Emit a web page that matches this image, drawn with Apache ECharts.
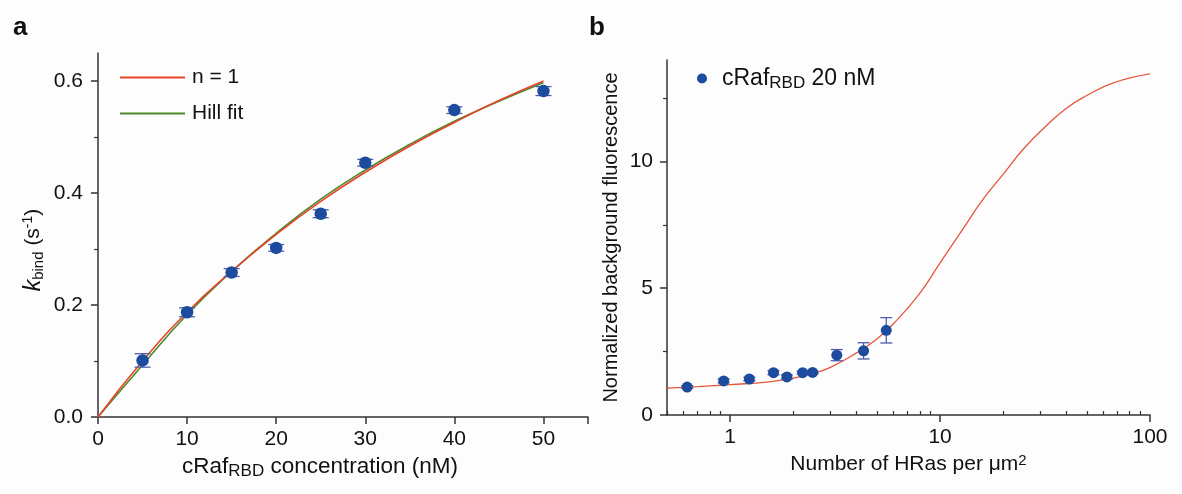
<!DOCTYPE html>
<html><head><meta charset="utf-8">
<script src="https://cdn.jsdelivr.net/npm/echarts@6/dist/echarts.min.js"></script>
<style>html,body{margin:0;padding:0;background:#fdfdfd}#c{width:1182px;height:494px}</style>
</head><body><div id="c"></div>
<script>
// ---- Panel a data ----
const aConc = [5, 10, 15, 20, 25, 30, 40, 50];
const aKbind = [0.101, 0.187, 0.258, 0.302, 0.363, 0.454, 0.548, 0.582];
const aErr = [0.012, 0.008, 0.007, 0.006, 0.007, 0.006, 0.006, 0.008];
const aFitX = [0, 5, 10, 15, 20, 25, 30, 35, 40, 45, 50];
const aN1 = [0, 0.100, 0.187, 0.260, 0.326, 0.385, 0.437, 0.484, 0.526, 0.565, 0.600];
const aHill = [0, 0.093, 0.183, 0.260, 0.328, 0.389, 0.441, 0.487, 0.528, 0.564, 0.597];
const aXTicks = [0, 10, 20, 30, 40, 50];
const aYTicks = [0, 0.2, 0.4, 0.6];
const aYMinor = [0.1, 0.3, 0.5];
// ---- Panel b data ----
const bHRas = [0.624, 0.931, 1.234, 1.608, 1.863, 2.214, 2.47, 3.22, 4.32, 5.54];
const bFluor = [1.10, 1.345, 1.42, 1.67, 1.50, 1.67, 1.68, 2.36, 2.53, 3.34];
const bErr = [0.05, 0.08, 0.07, 0.08, 0.08, 0.05, 0.05, 0.22, 0.32, 0.5];
const bFitX = [0.5, 0.7, 1, 1.5, 2, 2.5, 3, 4, 5, 6, 8, 10, 13, 16, 20, 25, 32, 40, 50, 67, 100];
const bFitY = [1.06, 1.12, 1.2, 1.3, 1.45, 1.65, 1.88, 2.45, 3.0, 3.6, 4.8, 6.0, 7.4, 8.5, 9.5, 10.5, 11.4, 12.1, 12.6, 13.1, 13.45];
const bXTicks = [1, 10, 100];
const bXMinor = [0.5, 0.6, 0.7, 0.8, 0.9, 2, 3, 4, 5, 6, 7, 8, 9, 20, 30, 40, 50, 60, 70, 80, 90];
const bYTicks = [0, 5, 10];
const bYMinor = [2.5, 7.5, 12.5];

const FONT = "'Liberation Sans', Arial, sans-serif";
const AX = '#333';
const BLUE = '#1d4b9e';
const EBAR = '#4f5cab';

function errRender(cap) {
  return function (params, api) {
    const x = api.value(0), y = api.value(1), e = api.value(2);
    const t = api.coord([x, y + e]);
    const b = api.coord([x, y - e]);
    const st = { stroke: EBAR, lineWidth: 1.3 };
    return {
      type: 'group',
      children: [
        { type: 'line', shape: { x1: t[0], y1: t[1], x2: b[0], y2: b[1] }, style: st },
        { type: 'line', shape: { x1: t[0] - cap, y1: t[1], x2: t[0] + cap, y2: t[1] }, style: st },
        { type: 'line', shape: { x1: b[0] - cap, y1: b[1], x2: b[0] + cap, y2: b[1] }, style: st }
      ]
    };
  };
}

function rich(main, sub, sup) {
  return {
    t: { fontSize: main, fontFamily: FONT, color: '#111' },
    i: { fontSize: main + 2, fontFamily: FONT, color: '#111', fontStyle: 'italic' },
    s: { fontSize: sub, fontFamily: FONT, color: '#111', verticalAlign: 'bottom', padding: [10, 0, 0, 0] },
    p: { fontSize: sup, fontFamily: FONT, color: '#111', verticalAlign: 'top', padding: [0, 0, 8, 0] }
  };
}

const chart = echarts.init(document.getElementById('c'), null, { renderer: 'canvas' });
chart.setOption({
  backgroundColor: '#fdfdfd',
  animation: false,
  textStyle: { fontFamily: FONT },
  title: [
    { text: 'a', left: 8, top: 10, textStyle: { fontSize: 26, fontWeight: 'bold', color: '#111', fontFamily: FONT } },
    { text: 'b', left: 584, top: 10, textStyle: { fontSize: 26, fontWeight: 'bold', color: '#111', fontFamily: FONT } }
  ],
  grid: [
    { left: 98, top: 53, width: 490, height: 364 },
    { left: 667, top: 60, width: 483, height: 355 }
  ],
  legend: [
    {
      data: ['n = 1', 'Hill fit'], orient: 'vertical', left: 115, top: 62, icon: 'rect',
      itemWidth: 65, itemHeight: 2, itemGap: 15,
      textStyle: { fontSize: 21, color: '#111', fontFamily: FONT, padding: [0, 0, 0, 2] }
    },
    {
      data: ['cRafRBD 20 nM'], left: 692, top: 62, icon: 'circle',
      itemWidth: 10, itemHeight: 10, itemGap: 14,
      formatter: () => '{t|cRaf}{s|RBD}{t| 20 nM}',
      textStyle: { rich: rich(23, 17, 16), padding: [0, 0, 0, 10] }
    }
  ],
  xAxis: [
    {
      gridIndex: 0, type: 'value', min: 0, max: 55, interval: 10,
      axisLine: { lineStyle: { color: AX, width: 1.5 } },
      axisTick: { customValues: [0, 10, 20, 30, 40, 50, 55], length: 7, lineStyle: { color: AX, width: 1.5 } },
      axisLabel: { customValues: aXTicks, fontSize: 21, color: '#111', margin: 12, fontFamily: FONT },
      splitLine: { show: false },
      name: '{t|cRaf}{s|RBD}{t| concentration (nM)}', nameLocation: 'middle', nameGap: 34,
      nameTextStyle: { rich: rich(22.5, 17, 15), padding: [0, 46, 0, 0] }
    },
    {
      gridIndex: 1, type: 'log', min: 0.5, max: 100, logBase: 10,
      axisLine: { lineStyle: { color: AX, width: 1.5 } },
      axisTick: { customValues: bXTicks, length: 7, lineStyle: { color: AX, width: 1.5 } },
      axisLabel: { customValues: bXTicks, fontSize: 21, color: '#111', margin: 12, fontFamily: FONT },
      splitLine: { show: false },
      name: '{t|Number of HRas per μm}{p|2}', nameLocation: 'middle', nameGap: 36,
      nameTextStyle: { rich: rich(21, 15, 15) }
    },
    {
      gridIndex: 1, type: 'log', min: 0.5, max: 100, logBase: 10,
      axisLine: { show: false },
      axisTick: { customValues: bXMinor, length: 4, lineStyle: { color: AX, width: 1.2 } },
      axisLabel: { show: false },
      splitLine: { show: false }
    }
  ],
  yAxis: [
    {
      gridIndex: 0, type: 'value', min: 0, max: 0.65, interval: 0.2, position: 'left',
      axisLine: { show: true, lineStyle: { color: AX, width: 1.5 } },
      axisTick: { show: true, customValues: aYTicks, length: 7, lineStyle: { color: AX, width: 1.5 } },
      axisLabel: { customValues: aYTicks, formatter: v => v.toFixed(1), fontSize: 21, color: '#111', margin: 15, fontFamily: FONT },
      splitLine: { show: false },
      name: '{i|k}{s|bind}{t| (s}{p|-1}{t|)}', nameLocation: 'middle', nameGap: 52,
      nameTextStyle: { rich: rich(21, 15, 14), padding: [0, 30, 0, 0] }
    },
    {
      gridIndex: 0, type: 'value', min: 0, max: 0.65, position: 'left',
      axisLine: { show: false },
      axisTick: { show: true, customValues: aYMinor, length: 4, lineStyle: { color: AX, width: 1.2 } },
      axisLabel: { show: false }, splitLine: { show: false }
    },
    {
      gridIndex: 1, type: 'value', min: 0, max: 14, interval: 5, position: 'left',
      axisLine: { show: true, lineStyle: { color: AX, width: 1.5 } },
      axisTick: { show: true, customValues: bYTicks, length: 7, lineStyle: { color: AX, width: 1.5 } },
      axisLabel: { customValues: bYTicks, fontSize: 21, color: '#111', margin: 14, fontFamily: FONT },
      splitLine: { show: false },
      name: 'Normalized background fluorescence', nameLocation: 'middle', nameGap: 46,
      nameTextStyle: { fontSize: 20, color: '#111', fontFamily: FONT }
    },
    {
      gridIndex: 1, type: 'value', min: 0, max: 14, position: 'left',
      axisLine: { show: false },
      axisTick: { show: true, customValues: bYMinor, length: 4, lineStyle: { color: AX, width: 1.2 } },
      axisLabel: { show: false }, splitLine: { show: false }
    }
  ],
  series: [
    {
      name: 'Hill fit', type: 'line', xAxisIndex: 0, yAxisIndex: 0, smooth: true, symbol: 'none',
      data: aFitX.map((x, i) => [x, aHill[i]]),
      lineStyle: { color: '#4c8a2c', width: 1.6 }, itemStyle: { color: '#4c8a2c' }, z: 3
    },
    {
      name: 'n = 1', type: 'line', xAxisIndex: 0, yAxisIndex: 0, smooth: true, symbol: 'none',
      data: aFitX.map((x, i) => [x, aN1[i]]),
      lineStyle: { color: '#e8432b', width: 1.6 }, itemStyle: { color: '#e8432b' }, z: 4
    },
    {
      name: 'aErr', type: 'custom', xAxisIndex: 0, yAxisIndex: 0,
      renderItem: errRender(8), data: aConc.map((x, i) => [x, aKbind[i], aErr[i]]), z: 5
    },
    {
      name: 'aData', type: 'scatter', xAxisIndex: 0, yAxisIndex: 0, symbolSize: 12.5,
      data: aConc.map((x, i) => [x, aKbind[i]]), itemStyle: { color: BLUE, opacity: 1 }, z: 6
    },
    {
      name: 'bFit', type: 'line', xAxisIndex: 1, yAxisIndex: 2, smooth: true, symbol: 'none',
      data: bFitX.map((x, i) => [x, bFitY[i]]),
      lineStyle: { color: '#e4573a', width: 1.3 }, z: 3
    },
    {
      name: 'bErr', type: 'custom', xAxisIndex: 1, yAxisIndex: 2,
      renderItem: errRender(6), data: bHRas.map((x, i) => [x, bFluor[i], bErr[i]]), z: 5
    },
    {
      name: 'cRafRBD 20 nM', type: 'scatter', xAxisIndex: 1, yAxisIndex: 2, symbolSize: 11,
      data: bHRas.map((x, i) => [x, bFluor[i]]), itemStyle: { color: BLUE, opacity: 1 }, z: 6
    }
  ]
});
</script>
</body></html>
